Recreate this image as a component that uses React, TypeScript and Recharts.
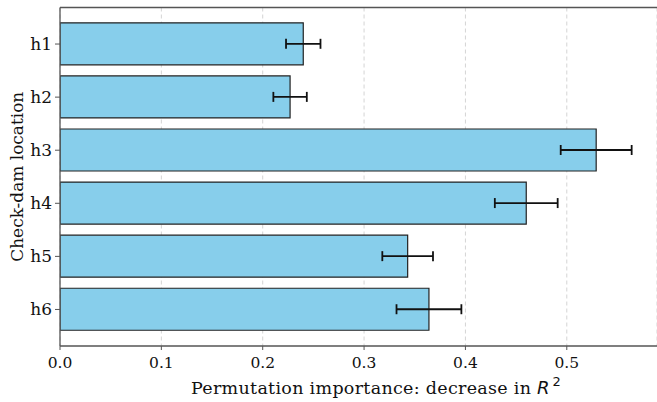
import {
  Bar,
  BarChart,
  CartesianGrid,
  ErrorBar,
  XAxis,
  YAxis,
} from "recharts";

const locations = ["h1", "h2", "h3", "h4", "h5", "h6"];
const importance = [0.24, 0.227, 0.529, 0.46, 0.343, 0.364];
const importanceStd = [0.017, 0.0165, 0.035, 0.031, 0.025, 0.032];
const xTicks = [0, 0.1, 0.2, 0.3, 0.4, 0.5];

const data = locations.map((loc, i) => ({
  loc,
  value: importance[i],
  err: importanceStd[i],
}));

const SERIF = "'DejaVu Serif', 'Liberation Serif', serif";
const SPINE = "#555";
const INK = "#111";

type TickProps = { x?: number; y?: number; payload?: { value: number | string } };

function XTick({ x = 0, y = 0, payload }: TickProps) {
  return (
    <text
      x={x}
      y={y + 12}
      textAnchor="middle"
      fontFamily={SERIF}
      fontSize={15.5}
      fill={INK}
    >
      {Number(payload?.value).toFixed(1)}
    </text>
  );
}

function YTick({ x = 0, y = 0, payload }: TickProps) {
  return (
    <text
      x={x}
      y={y + 6}
      textAnchor="end"
      fontFamily={SERIF}
      fontSize={17}
      fill={INK}
    >
      {payload?.value}
    </text>
  );
}

function XTitle({ viewBox }: { viewBox?: { x: number; y: number } }) {
  if (!viewBox) return null;
  const x0 = viewBox.x + 131;
  const base = viewBox.y + 48;
  return (
    <g>
      <text
        x={x0}
        y={base}
        fontFamily={SERIF}
        fontSize={17.5}
        fill={INK}
        textLength={340}
        lengthAdjust="spacing"
      >
        Permutation importance: decrease in
      </text>
      <text
        x={x0 + 346}
        y={base}
        fontFamily="'DejaVu Sans', sans-serif"
        fontStyle="italic"
        fontSize={18}
        fill={INK}
      >
        R
        <tspan fontSize={13} fontStyle="normal" dx={3} dy={-8}>
          2
        </tspan>
      </text>
    </g>
  );
}

function YTitle({ viewBox }: { viewBox?: { x: number; y: number; height: number } }) {
  if (!viewBox) return null;
  const cy = viewBox.y + viewBox.height / 2;
  return (
    <text
      x={22.5}
      y={cy}
      transform={`rotate(-90 22.5 ${cy})`}
      textAnchor="middle"
      fontFamily={SERIF}
      fontSize={17}
      fill={INK}
      textLength={170}
      lengthAdjust="spacingAndGlyphs"
    >
      Check-dam location
    </text>
  );
}

export default function App() {
  return (
    <div style={{ position: "absolute", left: 0, top: 0, background: "#fff" }}>
      <BarChart
        width={657}
        height={402}
        data={data}
        layout="vertical"
        margin={{ top: 6.5, right: 0, bottom: 0, left: 0 }}
        barCategoryGap="10%"
      >
        <CartesianGrid
          horizontal={false}
          stroke="#d4d4d4"
          strokeDasharray="4 3"
        />
        <XAxis
          type="number"
          domain={[0, 0.589]}
          ticks={xTicks}
          allowDataOverflow
          height={56}
          tickSize={4}
          tickMargin={6}
          tick={<XTick />}
          stroke={SPINE}
          axisLine={{ stroke: SPINE, strokeWidth: 1.3 }}
          tickLine={{ stroke: SPINE }}
          label={<XTitle />}
        />
        <XAxis
          xAxisId="top"
          type="number"
          orientation="top"
          domain={[0, 0.589]}
          height={1}
          tick={false}
          tickLine={false}
          stroke={SPINE}
          axisLine={{ stroke: SPINE, strokeWidth: 1.3 }}
        />
        <YAxis
          type="category"
          dataKey="loc"
          width={60}
          padding={{ top: 10, bottom: 10 }}
          tickSize={5}
          tickMargin={3}
          tick={<YTick />}
          stroke={SPINE}
          axisLine={{ stroke: SPINE, strokeWidth: 1.3 }}
          tickLine={{ stroke: SPINE }}
          label={<YTitle />}
        />
        <Bar
          dataKey="value"
          fill="#87CEEB"
          stroke="#222"
          strokeWidth={1.2}
          isAnimationActive={false}
        >
          <ErrorBar
            dataKey="err"
            direction="x"
            width={5}
            stroke={INK}
            strokeWidth={1.8}
            isAnimationActive={false}
          />
        </Bar>
      </BarChart>
    </div>
  );
}
